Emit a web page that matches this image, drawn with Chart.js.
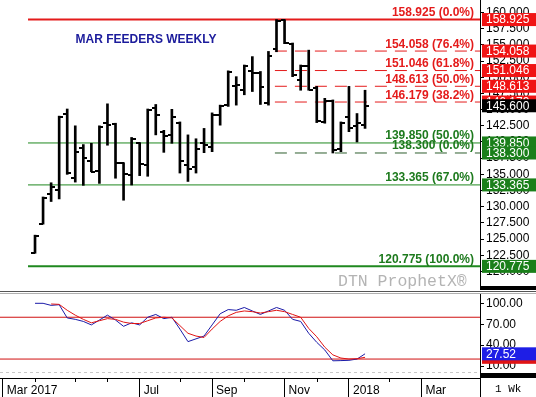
<!DOCTYPE html>
<html>
<head>
<meta charset="utf-8">
<script src="https://cdn.jsdelivr.net/npm/chart.js@4.4.1/dist/chart.umd.min.js"></script>
<style>
html, body { margin: 0; padding: 0; background: #fff; }
#wrap { position: relative; width: 536px; height: 397px; overflow: hidden; }
#priceChart { position: absolute; left: 0; top: 0; }
#stochChart { position: absolute; left: 0; top: 290px; }
</style>
</head>
<body>
<div id="wrap">
  <canvas id="priceChart" width="536" height="290"></canvas>
  <canvas id="stochChart" width="536" height="107"></canvas>
</div>
<script>
// weekly bars, week 0 = week of 27 Mar 2017
const opens  = [122.9,127.4,132.0,132.6,144.3,134.5,139.1,137.0,135.5,142.9,142.8,136.7,134.9,139.8,136.5,145.2,141.6,141.1,143.0,136.5,136.2,139.8,139.3,144.2,145.7,148.6,148.0,150.9,150.6,146.0,154.4,158.8,155.2,149.6,151.8,148.3,143.1,146.4,138.9,143.8,142.5,142.6];
const highs  = [125.6,131.5,133.7,144.0,145.1,142.5,139.6,139.8,142.5,145.9,142.9,136.8,140.7,139.9,145.1,145.8,141.8,145.05,143.1,141.1,140.5,142.1,144.5,145.7,151.0,150.1,151.9,153.2,150.9,154.0,158.925,158.9,155.3,151.9,154.2,148.6,146.75,146.5,143.1,148.6,144.4,148.0];
const lows   = [122.8,127.3,130.8,131.2,135.0,133.8,133.3,135.4,133.6,139.5,134.4,131.0,133.35,134.8,134.7,141.1,138.4,139.8,135.2,133.9,135.2,138.35,138.5,142.6,145.5,145.7,147.3,147.8,145.8,145.7,153.95,155.2,150.1,148.0,148.0,143.0,142.9,138.3,138.5,141.6,140.0,142.1];
const closes = [125.4,131.4,133.0,143.8,135.2,138.5,137.5,135.4,142.3,142.7,136.7,135.0,140.5,136.6,145.0,144.1,141.0,143.8,137.0,135.8,138.9,139.6,144.2,145.5,150.8,148.8,151.8,150.6,148.5,153.3,158.7,155.3,150.3,151.8,148.1,143.2,146.4,138.8,142.9,142.2,142.9,145.6];

const stochK = [100,100,97,98,79,77,74,69,76,83,76,67,72,69,80,84,78,80,63,45,49,53,69,85,91,90,94,89,84,89,94,90,77,74,57,44,33,17.5,17.8,18.2,20,27.52];
const stochD = [null,null,99,98.5,90,83,77,72,75,78,77,73,71,71,75,79,80,79,68,57,53,51,63,74,82,87,89,88,86,88,90,88,84,80,64,52,37,26,21.5,20,20.5,22.5];
const stochBands = [80, 20];

const redLevels = [158.925, 154.058, 151.046, 148.613, 146.179];
const redPcts = ['0.0%', '76.4%', '61.8%', '50.0%', '38.2%'];
const greenLevels = [139.850, 138.300, 133.365, 120.775];
const greenPcts = ['50.0%', '0.0%', '67.0%', '100.0%'];

const priceTicks = [120, 122.5, 125, 127.5, 130, 132.5, 135, 137.5, 140, 142.5, 145, 147.5, 150, 152.5, 155, 157.5, 160];
const stochTicks = [10, 40, 70, 100];
const tickWeeks = [-4, 13, 22, 31, 39, 48];
const tickLabels = ['Mar 2017', 'Jul', 'Sep', 'Nov', '2018', 'Mar'];
const minorWeeks = [0, 5, 9, 18, 26, 35, 44];

const chartTitle = 'MAR FEEDERS WEEKLY';
const watermark = 'DTN ProphetX\u00AE';
const periodLabel = '1 Wk';

const FONT = '"Liberation Sans", Arial, sans-serif';
Chart.defaults.font.family = FONT;
Chart.defaults.font.size = 12;
Chart.defaults.color = '#000';

const X_MIN = -4.35, X_MAX = 55.28;
const RED = '#e41b1b', GREEN = '#1f881f';

function flatLine(v, from, color, width, dash) {
    return {
        type: 'line',
        data: [{x: from, y: v}, {x: X_MAX, y: v}],
        borderColor: color, borderWidth: width, borderDash: dash || [],
        pointRadius: 0, order: 3
    };
}

const priceData = {
    datasets: [
        {
            type: 'bar',
            data: highs.map(function(h, i) { return {x: i, y: [lows[i], h]}; }),
            backgroundColor: '#000', barThickness: 2, order: 0
        },
        flatLine(redLevels[0], -0.87, RED, 2),
        ...redLevels.slice(1).map(function(v) { return flatLine(v, 29.8, RED, 1, [12, 8]); }),
        flatLine(greenLevels[0], -0.87, GREEN, 1),
        flatLine(greenLevels[1], 29.8, '#2e5e2e', 1, [12, 8]),
        flatLine(greenLevels[2], -0.87, GREEN, 1),
        flatLine(greenLevels[3], -0.87, GREEN, 2)
    ]
};

const pricePlugin = {
    id: 'priceDecor',
    afterDatasetsDraw(chart) {
        const {ctx, scales: {x, y}} = chart;
        ctx.save();
        ctx.fillStyle = '#000';
        opens.forEach(function(o, i) {
            const px = Math.round(x.getPixelForValue(i));
            ctx.fillRect(px - 4, Math.round(y.getPixelForValue(o)) - 1, 4, 2);
            ctx.fillRect(px, Math.round(y.getPixelForValue(closes[i])) - 1, 4, 2);
        });
        ctx.restore();
    },
    afterDraw(chart) {
        const {ctx, chartArea: a, scales: {y}} = chart;
        ctx.save();
        ctx.font = 'bold 12px ' + FONT;
        ctx.fillStyle = '#1c1c9c';
        ctx.textAlign = 'center';
        ctx.textBaseline = 'middle';
        ctx.fillText(chartTitle, 146, 40);

        ctx.textAlign = 'right';
        ctx.textBaseline = 'alphabetic';
        ctx.fillStyle = RED;
        redLevels.forEach(function(v, i) {
            ctx.fillText(v.toFixed(3) + ' (' + redPcts[i] + ')', 474, y.getPixelForValue(v) - 3.5);
        });
        ctx.fillStyle = '#1d7a1d';
        greenLevels.forEach(function(v, i) {
            ctx.fillText(v.toFixed(3) + ' (' + greenPcts[i] + ')', 474, y.getPixelForValue(v) - 3.5);
        });

        ctx.font = '16.5px "Liberation Mono", monospace';
        ctx.fillStyle = '#b4b4b4';
        ctx.textAlign = 'left';
        ctx.textBaseline = 'middle';
        ctx.fillText(watermark, 338, 282);

        ctx.font = '12px ' + FONT;
        function box(v, bg) {
            const py = y.getPixelForValue(v);
            ctx.fillStyle = bg;
            ctx.fillRect(a.right + 2, py - 6.5, chart.width - a.right - 2, 13);
            ctx.fillStyle = '#fff';
            ctx.fillText(v.toFixed(3), a.right + 6, py + 0.5);
        }
        redLevels.forEach(function(v) { box(v, '#f01414'); });
        greenLevels.forEach(function(v) { box(v, '#1a7f1a'); });
        box(closes[closes.length - 1], '#000');

        ctx.fillStyle = '#000';
        ctx.fillRect(a.right, chart.height - 4, chart.width - a.right, 4);
        ctx.restore();
    }
};

new Chart(document.getElementById('priceChart'), {
    type: 'bar',
    data: priceData,
    plugins: [pricePlugin],
    options: {
        responsive: false,
        animation: false,
        events: [],
        layout: {padding: {top: 0, bottom: 2, left: 0, right: 0}},
        plugins: {legend: {display: false}, tooltip: {enabled: false}},
        scales: {
            x: {type: 'linear', min: X_MIN, max: X_MAX, offset: false, display: false},
            y: {
                type: 'linear', position: 'right', min: 117.43, max: 161.95,
                afterBuildTicks: function(s) { s.ticks = priceTicks.map(function(v) { return {value: v}; }); },
                afterFit: function(s) { s.width = 56; s.paddingTop = 0; s.paddingBottom = 0; },
                ticks: {callback: function(v) { return v.toFixed(3); }, padding: 2, autoSkip: false, color: '#000'},
                grid: {drawOnChartArea: false, tickLength: 4, color: '#000'},
                border: {display: true, color: '#000'}
            }
        }
    }
});

function series(values) {
    return values.map(function(v, i) { return {x: i, y: v}; });
}

const stochData = {
    datasets: [
        {data: series(stochD), borderColor: '#e01414', borderWidth: 1, pointRadius: 0, order: 0},
        {data: series(stochK), borderColor: '#1a1aa8', borderWidth: 1, pointRadius: 0, order: 1},
        ...stochBands.map(function(v) {
            return {data: [{x: X_MIN, y: v}, {x: X_MAX, y: v}], borderColor: '#d01010', borderWidth: 1, pointRadius: 0, order: 2};
        })
    ]
};

const stochPlugin = {
    id: 'stochDecor',
    afterDraw(chart) {
        const {ctx, chartArea: a, scales: {x, y}} = chart;
        ctx.save();
        ctx.fillStyle = '#555';
        ctx.fillRect(0, 1, chart.width, 1);
        ctx.fillStyle = '#b0b0b0';
        ctx.fillRect(0, 3, chart.width, 1);

        ctx.strokeStyle = '#c8c8c8';
        ctx.setLineDash([3, 3]);
        ctx.beginPath();
        ctx.moveTo(a.left, a.bottom - 5.5);
        ctx.lineTo(a.right, a.bottom - 5.5);
        ctx.stroke();
        ctx.setLineDash([]);

        ctx.fillStyle = '#000';
        ctx.fillRect(a.right, a.bottom - 5, chart.width - a.right, 5);
        ctx.fillRect(a.right, a.bottom, 1, chart.height - a.bottom);
        minorWeeks.forEach(function(w) {
            ctx.fillRect(Math.round(x.getPixelForValue(w)), a.bottom, 1, 4);
        });

        ctx.font = '11px "Liberation Mono", monospace';
        ctx.textAlign = 'left';
        ctx.textBaseline = 'middle';
        ctx.fillText(periodLabel, 495, a.bottom + 11.5);

        ctx.font = '12px ' + FONT;
        function box(v, bg) {
            const py = y.getPixelForValue(v);
            ctx.fillStyle = bg;
            ctx.fillRect(a.right + 2, py - 6.5, chart.width - a.right - 2, 13);
            return py;
        }
        box(stochD[stochD.length - 1], '#e01414');
        const kLast = stochK[stochK.length - 1];
        const py = box(kLast, '#1e1ee6');
        ctx.fillStyle = '#fff';
        ctx.fillText(kLast.toFixed(2), a.right + 6, py + 0.5);
        ctx.restore();
    }
};

new Chart(document.getElementById('stochChart'), {
    type: 'line',
    data: stochData,
    plugins: [stochPlugin],
    options: {
        responsive: false,
        animation: false,
        events: [],
        layout: {padding: {top: 4, bottom: 0, left: 0, right: 0}},
        plugins: {legend: {display: false}, tooltip: {enabled: false}},
        scales: {
            x: {
                type: 'linear', position: 'bottom', min: X_MIN, max: X_MAX,
                afterBuildTicks: function(s) { s.ticks = tickWeeks.map(function(v) { return {value: v}; }); },
                afterFit: function(s) { s.height = 19; s.paddingLeft = 0; s.paddingRight = 0; },
                ticks: {
                    callback: function(v) { return tickLabels[tickWeeks.indexOf(v)]; },
                    align: 'start', labelOffset: 4, padding: -14, maxRotation: 0, autoSkip: false, color: '#000'
                },
                grid: {drawOnChartArea: false, tickLength: 19, color: '#000'},
                border: {display: true, color: '#000'}
            },
            y: {
                type: 'linear', position: 'right', min: -7.17, max: 113.34,
                afterBuildTicks: function(s) { s.ticks = stochTicks.map(function(v) { return {value: v}; }); },
                afterFit: function(s) { s.width = 56; s.paddingTop = 0; s.paddingBottom = 0; },
                ticks: {callback: function(v) { return v.toFixed(2); }, padding: 2, autoSkip: false, color: '#000'},
                grid: {drawOnChartArea: false, tickLength: 4, color: '#000'},
                border: {display: true, color: '#000'}
            }
        }
    }
});
</script>
</body>
</html>
